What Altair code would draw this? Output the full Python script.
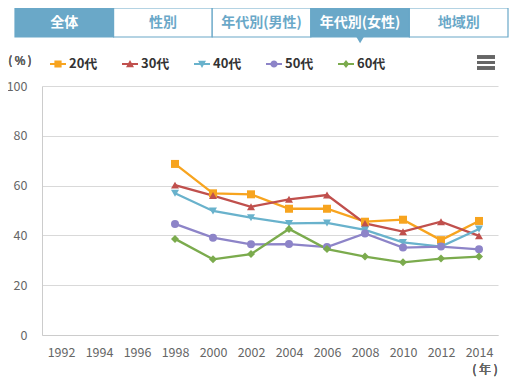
import altair as alt
import pandas as pd

years_all = ["1992", "1994", "1996", "1998", "2000", "2002", "2004",
             "2006", "2008", "2010", "2012", "2014"]
years = ["1998", "2000", "2002", "2004", "2006", "2008", "2010", "2012", "2014"]
ages = ["20代", "30代", "40代", "50代", "60代"]
v20 = [68.7, 56.9, 56.5, 50.7, 50.7, 45.5, 46.3, 38.1, 45.8]
v30 = [60.2, 56.0, 51.5, 54.5, 56.2, 44.8, 41.5, 45.5, 39.8]
v40 = [56.9, 49.8, 47.1, 44.8, 45.0, 42.2, 37.2, 35.5, 42.6]
v50 = [44.6, 39.1, 36.4, 36.5, 35.3, 40.8, 35.1, 35.5, 34.4]
v60 = [38.6, 30.4, 32.5, 42.6, 34.5, 31.5, 29.2, 30.7, 31.5]
colors = ["#f7a41f", "#c0504d", "#69b2cc", "#8d84c8", "#7bab4d"]
tabs = ["全体", "性別", "年代別(男性)", "年代別(女性)", "地域別"]
tab_state = ["on", "off", "off", "on", "off"]

rows = []
for age, vals in zip(ages, [v20, v30, v40, v50, v60]):
    for yr, v in zip(years, vals):
        rows.append({"year": yr, "age": age, "value": v})
df = pd.DataFrame(rows)

FONT = "Noto Sans CJK JP"
BLUE = "#6aa8c8"
GRAY = "#666666"

x_enc = alt.X("year:N", sort=years_all,
              scale=alt.Scale(type="point", domain=years_all, padding=0.5),
              axis=alt.Axis(title=None, labelAngle=0, labelColor=GRAY, labelFontSize=12.5,
                            labelFont=FONT, domainColor="#cccccc", ticks=False,
                            labelPadding=11, grid=False))
y_enc = alt.Y("value:Q", scale=alt.Scale(domain=[0, 100]),
              axis=alt.Axis(title=None, values=[0, 20, 40, 60, 80, 100], labelColor=GRAY,
                            labelFontSize=12.5, labelFont=FONT, labelPadding=15, ticks=False,
                            domainColor="#cccccc", gridColor="#d9d9d9"))
color_enc = alt.Color("age:N", scale=alt.Scale(domain=ages, range=colors), legend=None)

lines = alt.Chart(df).mark_line(strokeWidth=2.3).encode(x=x_enc, y=y_enc, color=color_enc)
points = alt.Chart(df).mark_point(filled=True, size=64, opacity=1).encode(
    x=x_enc, y=y_enc, color=color_enc,
    shape=alt.Shape("age:N", scale=alt.Scale(
        domain=ages, range=["square", "triangle-up", "triangle-down", "circle", "diamond"]),
        legend=None))
main = alt.layer(lines, points)

LINE = "M-1,-0.12H1V0.12H-1Z"
legend_paths = [
    LINE + "M-0.45,-0.45H0.45V0.45H-0.45Z",
    LINE + "M0,-0.5L0.5,0.4L-0.5,0.4Z",
    LINE + "M0,0.5L-0.5,-0.4L0.5,-0.4Z",
    LINE + "M-0.45,0A0.45,0.45,0,1,1,0.45,0A0.45,0.45,0,1,1,-0.45,0Z",
    LINE + "M0,-0.5L0.4,0L0,0.5L-0.4,0Z",
]
leg = alt.Legend(title=None, orient="none", legendX=8, legendY=-30, direction="horizontal",
                 columns=5, symbolSize=256, labelFont=FONT, labelFontSize=13,
                 labelFontWeight="bold", labelColor="#333333", columnPadding=24,
                 labelOffset=3, symbolOpacity=1, symbolStrokeWidth=0)
leg_df = pd.DataFrame({"age": ages})
leg_layer = alt.Chart(leg_df).mark_point(filled=True, opacity=0).encode(
    x=alt.value(0), y=alt.value(0),
    fill=alt.Fill("age:N", scale=alt.Scale(domain=ages, range=colors), legend=leg),
    shape=alt.Shape("age:N", scale=alt.Scale(domain=ages, range=legend_paths), legend=leg))

tab_df = pd.DataFrame({"tab": tabs, "sel": tab_state})
tab_scale = alt.Scale(type="band", domain=tabs, range=[-27, 466], paddingInner=0, paddingOuter=0)
tab_rect = alt.Chart(tab_df).mark_rect(stroke=BLUE, strokeWidth=1.2).encode(
    x=alt.X("tab:N", scale=tab_scale, axis=None, sort=tabs),
    y=alt.value(-78), y2=alt.value(-49),
    fill=alt.condition("datum.sel == 'on'", alt.value(BLUE), alt.value("white")))
tab_text = alt.Chart(tab_df).mark_text(font=FONT, fontSize=14, fontWeight="bold").encode(
    x=alt.X("tab:N", scale=tab_scale, axis=None, sort=tabs, bandPosition=0.5),
    y=alt.value(-63), text="tab:N",
    color=alt.condition("datum.sel == 'on'", alt.value("white"), alt.value(BLUE)))
tri = alt.Chart(tab_df).transform_filter("datum.tab == '年代別(女性)'").mark_point(
    shape="triangle-down", filled=True, size=60, color=BLUE, opacity=1).encode(
    x=alt.X("tab:N", scale=tab_scale, axis=None, sort=tabs, bandPosition=0.5),
    y=alt.value(-46))

menu = [alt.Chart(tab_df).mark_rule(strokeWidth=3, color=GRAY).encode(
    x=alt.value(435), x2=alt.value(453), y=alt.value(yy)) for yy in (-29, -23.5, -18)]

pct = alt.Chart(tab_df).mark_text(font=FONT, fontSize=11.5, color=GRAY).encode(
    x=alt.value(-22), y=alt.value(-24), text=alt.value("( % )"))
nen = alt.Chart(tab_df).mark_text(font=FONT, fontSize=12, color=GRAY).encode(
    x=alt.value(443), y=alt.value(284), text=alt.value("( 年 )"))

chart = alt.layer(tab_rect, tab_text, tri, *menu, pct, nen, main, leg_layer).resolve_scale(
    x="independent", shape="independent", fill="independent"
).properties(
    width=456, height=249, autosize="none",
    padding={"left": 34, "top": 78, "right": 12, "bottom": 42},
    background="white"
).configure_view(stroke=None)

chart.save("out.html", embed_options={"renderer": "svg", "actions": False})
